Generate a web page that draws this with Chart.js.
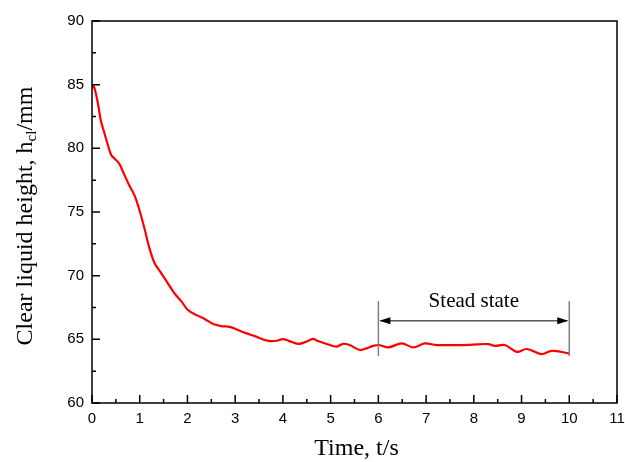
<!DOCTYPE html>
<html>
<head>
<meta charset="utf-8">
<script src="https://cdn.jsdelivr.net/npm/chart.js@4/dist/chart.umd.min.js"></script>
<style>
html,body{margin:0;padding:0;background:#fff;}
#c{display:block;}
</style>
</head>
<body>
<canvas id="c" width="625" height="462"></canvas>
<script>
// ---- data ----
const timeS = [0, 0.04, 0.12, 0.19, 0.26, 0.33, 0.40, 0.47, 0.57, 0.68, 0.78, 0.89, 0.99, 1.10, 1.20, 1.31, 1.45, 1.59, 1.73, 1.87, 2.01, 2.19, 2.36, 2.54, 2.71, 2.89, 3.06, 3.24, 3.41, 3.58, 3.73, 3.87, 4.00, 4.14, 4.32, 4.49, 4.63, 4.72, 4.95, 5.12, 5.26, 5.40, 5.61, 5.75, 5.89, 6.02, 6.21, 6.49, 6.73, 6.97, 7.22, 7.57, 7.92, 8.30, 8.44, 8.65, 8.90, 9.11, 9.42, 9.63, 10.0];
const heightMm = [84.75, 84.85, 83.6, 82.1, 81.2, 80.3, 79.5, 79.2, 78.8, 77.9, 77.1, 76.3, 75.2, 73.7, 72.2, 71.0, 70.2, 69.4, 68.6, 68.0, 67.3, 66.9, 66.6, 66.2, 66.04, 65.98, 65.73, 65.47, 65.25, 65.0, 64.86, 64.89, 65.02, 64.86, 64.65, 64.81, 65.04, 64.89, 64.6, 64.42, 64.65, 64.55, 64.16, 64.29, 64.49, 64.55, 64.37, 64.68, 64.37, 64.68, 64.55, 64.55, 64.57, 64.63, 64.49, 64.55, 64.02, 64.24, 63.84, 64.1, 63.9];
const xTicks = [0,1,2,3,4,5,6,7,8,9,10,11];
const yTicks = [60,65,70,75,80,85,90];
// annotation (data units)
const steadyStart = 6, steadyEnd = 10;
const steadyArrowY = 66.45, steadyLineTop = 68.0, steadyLineBottom = 63.7, steadyLabelY = 67.55;
const steadyLabel = 'Stead state';
const xTitle = 'Time, t/s';
const yTitleMain = 'Clear liquid height, h', yTitleSub = 'cl', yTitleEnd = '/mm';

const points = timeS.map((t, i) => ({x: t, y: heightMm[i]}));

const framePlugin = {
  id: 'frame',
  afterDraw(chart) {
    const ctx = chart.ctx, a = chart.chartArea;
    const xs = chart.scales.x, ys = chart.scales.y;
    ctx.save();
    // box
    ctx.strokeStyle = '#000'; ctx.lineWidth = 1.5;
    ctx.strokeRect(a.left, a.top, a.right - a.left, a.bottom - a.top);
    // inward ticks
    ctx.lineWidth = 1.5;
    ctx.beginPath();
    for (let v = 0; v <= 11; v += 0.5) {
      const px = xs.getPixelForValue(v);
      const len = (Math.abs(v - Math.round(v)) < 1e-6) ? 8 : 4;
      ctx.moveTo(px, a.bottom); ctx.lineTo(px, a.bottom - len);
    }
    for (let v = 60; v <= 90; v += 2.5) {
      const py = ys.getPixelForValue(v);
      const len = (v % 5 === 0) ? 8 : 4;
      ctx.moveTo(a.left, py); ctx.lineTo(a.left + len, py);
    }
    ctx.stroke();
    // annotation
    const x1 = xs.getPixelForValue(steadyStart), x2 = xs.getPixelForValue(steadyEnd);
    const yt = ys.getPixelForValue(steadyLineTop), yb = ys.getPixelForValue(steadyLineBottom);
    const ya = ys.getPixelForValue(steadyArrowY);
    ctx.strokeStyle = '#808080'; ctx.lineWidth = 1.5;
    ctx.beginPath();
    ctx.moveTo(x1, yt); ctx.lineTo(x1, yb);
    ctx.moveTo(x2, yt); ctx.lineTo(x2, yb);
    ctx.stroke();
    ctx.strokeStyle = '#000'; ctx.lineWidth = 1;
    ctx.beginPath(); ctx.moveTo(x1 + 2, ya); ctx.lineTo(x2 - 2, ya); ctx.stroke();
    ctx.fillStyle = '#000';
    ctx.beginPath(); ctx.moveTo(x1 + 1, ya); ctx.lineTo(x1 + 12, ya - 3.5); ctx.lineTo(x1 + 12, ya + 3.5); ctx.closePath(); ctx.fill();
    ctx.beginPath(); ctx.moveTo(x2 - 1, ya); ctx.lineTo(x2 - 12, ya - 3.5); ctx.lineTo(x2 - 12, ya + 3.5); ctx.closePath(); ctx.fill();
    ctx.font = '21px "Liberation Serif", "Times New Roman", serif';
    ctx.textAlign = 'center'; ctx.textBaseline = 'alphabetic';
    ctx.fillText(steadyLabel, (x1 + x2) / 2, ys.getPixelForValue(steadyLabelY));
    // x title
    ctx.font = '24px "Liberation Serif", "Times New Roman", serif';
    ctx.fillText(xTitle, (a.left + a.right) / 2 + 2, 455);
    // y title with subscript
    ctx.translate(32, (a.top + a.bottom) / 2 + 4);
    ctx.rotate(-Math.PI / 2);
    const fMain = '24px "Liberation Serif", "Times New Roman", serif';
    const fSub = '15px "Liberation Serif", "Times New Roman", serif';
    ctx.font = fMain; const w1 = ctx.measureText(yTitleMain).width; const w3 = ctx.measureText(yTitleEnd).width;
    ctx.font = fSub; const w2 = ctx.measureText(yTitleSub).width;
    let x = -(w1 + w2 + w3) / 2;
    ctx.textAlign = 'left';
    ctx.font = fMain; ctx.fillText(yTitleMain, x, 0); x += w1;
    ctx.font = fSub; ctx.fillText(yTitleSub, x, 4); x += w2;
    ctx.font = fMain; ctx.fillText(yTitleEnd, x, 0);
    ctx.restore();
  }
};

new Chart(document.getElementById('c'), {
  type: 'line',
  data: {
    datasets: [{
      data: points,
      borderColor: '#ff0000',
      borderWidth: 2.2,
      pointRadius: 0,
      tension: 0.35,
      fill: false
    }]
  },
  options: {
    responsive: false,
    animation: false,
    devicePixelRatio: 1,
    layout: {padding: {left: 0, top: 21, right: 8, bottom: 0}},
    plugins: {legend: {display: false}, tooltip: {enabled: false}},
    scales: {
      x: {
        type: 'linear', min: 0, max: 11,
        afterBuildTicks(s) { s.ticks = xTicks.map(v => ({value: v})); },
        afterFit(s) { s.height = 59; s.paddingLeft = 0; s.paddingRight = 0; },
        grid: {display: false, drawTicks: false},
        border: {display: false},
        ticks: {padding: 7, color: '#000', font: {family: '"Liberation Sans", Arial, sans-serif', size: 15}, maxRotation: 0, autoSkip: false}
      },
      y: {
        type: 'linear', min: 60, max: 90,
        afterBuildTicks(s) { s.ticks = yTicks.map(v => ({value: v})); },
        afterFit(s) { s.width = 92; s.paddingTop = 0; s.paddingBottom = 0; },
        grid: {display: false, drawTicks: false},
        border: {display: false},
        ticks: {padding: 8, color: '#000', font: {family: '"Liberation Sans", Arial, sans-serif', size: 15}}
      }
    }
  },
  plugins: [framePlugin]
});
</script>
</body>
</html>
